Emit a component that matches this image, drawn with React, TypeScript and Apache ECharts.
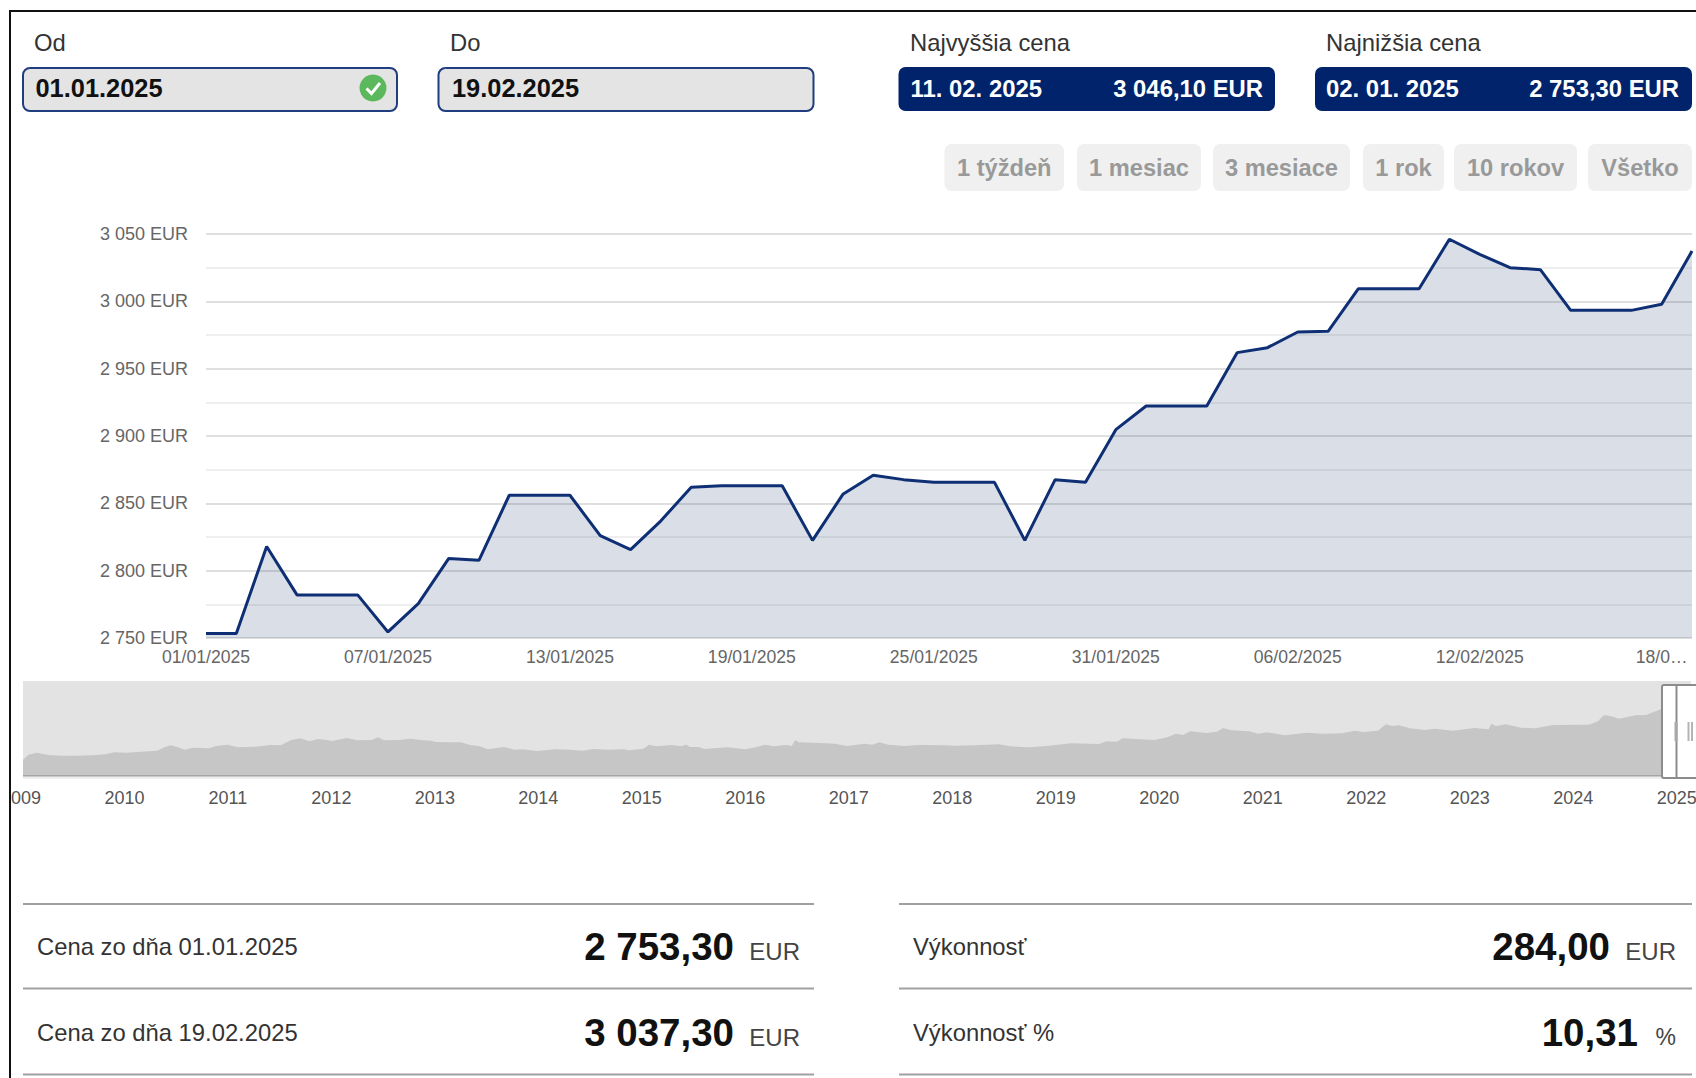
import React, { useEffect, useRef } from "react";
import * as echarts from "echarts";

const days = [
  "01/01/2025","02/01/2025","03/01/2025","04/01/2025","05/01/2025","06/01/2025","07/01/2025","08/01/2025","09/01/2025","10/01/2025",
  "11/01/2025","12/01/2025","13/01/2025","14/01/2025","15/01/2025","16/01/2025","17/01/2025","18/01/2025","19/01/2025","20/01/2025",
  "21/01/2025","22/01/2025","23/01/2025","24/01/2025","25/01/2025","26/01/2025","27/01/2025","28/01/2025","29/01/2025","30/01/2025",
  "31/01/2025","01/02/2025","02/02/2025","03/02/2025","04/02/2025","05/02/2025","06/02/2025","07/02/2025","08/02/2025","09/02/2025",
  "10/02/2025","11/02/2025","12/02/2025","13/02/2025","14/02/2025","15/02/2025","16/02/2025","17/02/2025","18/02/2025","19/02/2025",
];
const prices = [
  2753.3, 2753.3, 2818, 2782, 2782, 2782, 2754.5, 2775.5, 2809, 2807.7,
  2856, 2856, 2856, 2826, 2815.6, 2837, 2862, 2863, 2863, 2863,
  2822.5, 2856.7, 2870.8, 2867.6, 2865.6, 2865.6, 2865.6, 2822.5, 2867.6, 2865.6,
  2904.7, 2922.3, 2922.3, 2922.3, 2961.9, 2965.6, 2977.2, 2977.7, 3009.4, 3009.4,
  3009.4, 3046.1, 3034.9, 3025, 3023.5, 2993.3, 2993.3, 2993.3, 2997.8, 3037.3,
];
const yTickLabels = ["2 750 EUR", "2 800 EUR", "2 850 EUR", "2 900 EUR", "2 950 EUR", "3 000 EUR", "3 050 EUR"];
const navTickLabels = ["2009","2010","2011","2012","2013","2014","2015","2016","2017","2018","2019","2020","2021","2022","2023","2024","2025"];

const navYears = [
  2009.021,2009.074,2009.153,2009.264,2009.402,2009.54,2009.678,2009.816,2009.903,2010.024,2010.162,2010.317,2010.386,2010.449,2010.507,2010.583,2010.663,2010.818,2010.887,2010.998,
  2011.094,2011.267,2011.405,2011.509,2011.613,2011.699,2011.785,2011.872,2011.958,2012.01,2012.148,2012.252,2012.39,2012.449,2012.511,2012.649,2012.77,2012.856,2012.96,2013.012,
  2013.133,2013.253,2013.34,2013.426,2013.513,2013.668,2013.771,2013.858,2013.979,2014.169,2014.307,2014.428,2014.531,2014.687,2014.825,2014.877,2015.015,2015.067,2015.136,2015.291,
  2015.377,2015.429,2015.464,2015.55,2015.602,2015.827,2016,2016.103,2016.189,2016.276,2016.396,2016.448,2016.483,2016.517,2016.776,2016.863,2016.984,2017.156,2017.226,2017.295,
  2017.381,2017.537,2017.675,2017.916,2018.02,2018.21,2018.452,2018.556,2018.746,2018.936,2019.143,2019.419,2019.488,2019.592,2019.644,2019.729,2019.954,2020.075,2020.161,2020.23,
  2020.299,2020.455,2020.558,2020.617,2020.696,2020.869,2020.956,2021.042,2021.215,2021.422,2021.56,2021.767,2021.888,2021.975,2022.113,2022.189,2022.251,2022.313,2022.424,2022.562,
  2022.665,2022.838,2023.045,2023.183,2023.208,2023.252,2023.346,2023.494,2023.632,2023.805,2024.151,2024.237,2024.296,2024.358,2024.444,2024.6,2024.703,2024.859,2025,2025.13,
];
const navValues = [
  668,872,954,859,831,831,845,886,967,954,995,1035,1171,1253,1185,1076,1158,1131,1226,1280,
  1171,1199,1267,1253,1471,1539,1416,1511,1471,1430,1552,1457,1471,1579,1457,1471,1525,1471,1443,1389,
  1375,1375,1267,1226,1090,1185,1076,1090,1022,1090,1076,1035,1103,1076,1090,1049,1117,1280,1212,1267,
  1212,1280,1185,1185,1103,1171,1090,1171,1280,1212,1267,1226,1471,1375,1335,1321,1226,1321,1280,1375,
  1280,1226,1267,1253,1239,1253,1294,1212,1171,1239,1335,1308,1416,1403,1539,1525,1471,1579,1729,1675,
  1824,1756,1811,1960,1865,1824,1729,1783,1661,1770,1729,1743,1851,1797,1851,2110,2042,2069,1947,1879,
  1933,1851,1960,1906,2137,2042,2110,1974,1947,2083,2096,2232,2477,2450,2341,2477,2491,2749,2790,3037,
];

const rangeButtons = ["1 týždeň", "1 mesiac", "3 mesiace", "1 rok", "10 rokov", "Všetko"];
const leftStats = [
  ["Cena zo dňa 01.01.2025", "2 753,30", "EUR"],
  ["Cena zo dňa 19.02.2025", "3 037,30", "EUR"],
];
const rightStats = [
  ["Výkonnosť", "284,00", "EUR"],
  ["Výkonnosť %", "10,31", "%"],
];

const FONT = '"Liberation Sans", Arial, sans-serif';
const NAVY = "#00236b";

function label(text: string, x: number, y: number, size: number, fill: string, bold = false, align = "left", z = 30) {
  return {
    type: "text",
    z,
    style: {
      text, x, y, fill,
      font: `${bold ? "bold " : ""}${size}px ${FONT}`,
      align, textAlign: align,
      verticalAlign: "middle", textVerticalAlign: "middle",
    },
  };
}
function box(x: number, y: number, width: number, height: number, fill: string, r = 0, stroke?: string, lineWidth = 0, z = 30) {
  return {
    type: "rect",
    z,
    shape: { x, y, width, height, r },
    style: { fill, stroke: stroke || "none", lineWidth },
  };
}

function buildGraphics() {
  const g: any[] = [];
  // navigator background, drawn beneath the series
  g.push(box(23, 681, 1668, 95, "#e3e3e3", 0, undefined, 0, 0));
  g.push(box(23, 776, 1668, 3, "#eeeeee", 0, undefined, 0, 0));
  g.push(box(23, 775, 1668, 1.5, "#a6a6a6", 0, undefined, 0, 5));

  // frame, covers what sticks out at the left
  g.push(box(0, 0, 9, 1078, "#ffffff", 0, undefined, 0, 20));
  g.push(box(9, 10, 1687, 2, "#111111"));
  g.push(box(9, 10, 2, 1068, "#111111"));

  // header labels
  g.push(label("Od", 34, 42.5, 23.8, "#333333"));
  g.push(label("Do", 450, 42.5, 23.8, "#333333"));
  g.push(label("Najvyššia cena", 910, 42.5, 23.8, "#333333"));
  g.push(label("Najnižšia cena", 1326, 42.5, 23.8, "#333333"));

  // date fields
  g.push(box(23, 68, 374, 43, "#e4e4e4", 7, "#1f3d7f", 2));
  g.push(box(438.5, 68, 375, 43, "#e4e4e4", 7, "#1f3d7f", 2));
  g.push(label("01.01.2025", 35.5, 88, 25.4, "#111111", true));
  g.push(label("19.02.2025", 452, 88, 25.4, "#111111", true));
  g.push({ type: "circle", z: 30, shape: { cx: 373, cy: 88, r: 13.5 }, style: { fill: "#5cb85c" } });
  g.push({
    type: "polyline", z: 31,
    shape: { points: [[366.5, 88.5], [371.5, 93.5], [380, 83]] },
    style: { stroke: "#ffffff", lineWidth: 3, fill: "none" },
  });

  // highest / lowest price boxes
  g.push(box(898.5, 67, 376.5, 44, NAVY, 7));
  g.push(box(1315, 67, 377, 44, NAVY, 7));
  g.push(label("11. 02. 2025", 910.5, 88, 23.9, "#ffffff", true));
  g.push(label("3 046,10 EUR", 1263, 88, 23.85, "#ffffff", true, "right"));
  g.push(label("02. 01. 2025", 1326, 88, 23.9, "#ffffff", true));
  g.push(label("2 753,30 EUR", 1679, 88, 23.85, "#ffffff", true, "right"));

  // range buttons
  const edges = [[944.5, 1064], [1077, 1201], [1213, 1350], [1363, 1444], [1454, 1577], [1588, 1692]];
  rangeButtons.forEach((t, i) => {
    const [a, b] = edges[i];
    g.push(box(a, 144, b - a, 47, "#f0f0f0", 7));
    g.push(label(t, (a + b) / 2, 168, 23.65, "#999999", true, "center"));
  });

  // navigator selection
  g.push(box(1662, 685, 40, 93, "#ffffff", 2, "#8c8c8c", 2, 10));
  g.push({ type: "line", z: 11, shape: { x1: 1676.5, y1: 685, x2: 1676.5, y2: 778 }, style: { stroke: "#8c8c8c", lineWidth: 2 } });
  g.push(box(1674.5, 722, 3, 19, "#a8a8a8", 0, undefined, 0, 11));
  g.push(box(1687.5, 722, 2, 19, "#b5b5b5", 0, undefined, 0, 11));
  g.push(box(1691, 722, 2, 19, "#b5b5b5", 0, undefined, 0, 11));

  // bottom tables
  [904, 988.5, 1074.5].forEach((y) => {
    g.push(box(23, y - 1, 791, 2, "#a0a0a0"));
    g.push(box(899, y - 1, 793, 2, "#a0a0a0"));
  });
  const rows = [946.5, 1032.5];
  leftStats.forEach(([name, val, unit], i) => {
    g.push(label(name, 37, rows[i], 23.8, "#333333"));
    g.push(label(val, 734, rows[i], 38.5, "#111111", true, "right"));
    g.push(label(unit, 800, rows[i] + 4.5, 24, "#444444", false, "right"));
  });
  rightStats.forEach(([name, val, unit], i) => {
    g.push(label(name, 913, rows[i], 23.8, "#333333"));
    g.push(label(val, unit === "%" ? 1638 : 1610, rows[i], 38.5, "#111111", true, "right"));
    g.push(label(unit, 1676, rows[i] + 4.5, unit === "%" ? 23 : 24, "#444444", false, "right"));
  });
  return g;
}

export default function App() {
  const ref = useRef<HTMLDivElement>(null);
  useEffect(() => {
    document.body.style.margin = "0";
    const chart = echarts.init(ref.current!, undefined, { renderer: "svg" });
    chart.setOption({
      animation: false,
      backgroundColor: "#ffffff",
      textStyle: { fontFamily: FONT },
      graphic: { elements: buildGraphics() },
      grid: [
        { left: 206, top: 234, width: 1486, height: 404, outerBoundsMode: "none" },
        { left: 20.9, top: 681, width: 1675.1, height: 95, outerBoundsMode: "none" },
      ],
      xAxis: [
        {
          type: "category", gridIndex: 0, data: days, boundaryGap: false,
          axisLine: { show: false }, axisTick: { show: false },
          axisLabel: {
            interval: 5, showMinLabel: true,
            color: "#666666", fontSize: 17.6, fontFamily: FONT, margin: 10,
            formatter: (v: string, i: number) => {
              if (i === 49) return "";
              return i === 48 ? v.slice(0, 4) + "…" : v;
            },
          },
        },
        {
          type: "value", gridIndex: 1, min: 2009, max: 2025.186, interval: 1,
          splitLine: { show: false }, axisTick: { show: false },
          axisLine: { show: false },
          axisLabel: {
            showMinLabel: true, showMaxLabel: false,
            color: "#555555", fontSize: 18, fontFamily: FONT, margin: 12.5,
            formatter: (v: number) => navTickLabels[v - 2009] ?? "",
          },
        },
      ],
      yAxis: [
        {
          type: "value", gridIndex: 0, min: 2750, max: 3050, interval: 50,
          axisLine: { show: false }, axisTick: { show: false },
          axisLabel: {
            color: "#666666", fontSize: 18, fontFamily: FONT, margin: 18,
            formatter: (v: number) => yTickLabels[(v - 2750) / 50] ?? "",
          },
          splitLine: { show: true, lineStyle: { color: "#d5d5d5", width: 1.5 } },
          minorTick: { show: false, splitNumber: 2 },
          minorSplitLine: { show: true, lineStyle: { color: "#eaeaea", width: 1.5 } },
        },
        { type: "value", gridIndex: 1, min: 0, max: 3880, show: false, splitLine: { show: false } },
      ],
      series: [
        {
          type: "line", xAxisIndex: 0, yAxisIndex: 0, data: prices, showSymbol: false, symbol: "none",
          lineStyle: { color: "#0f2f75", width: 3 },
          areaStyle: { color: "rgba(0,32,96,0.15)", opacity: 1 },
        },
        {
          type: "line", xAxisIndex: 1, yAxisIndex: 1, showSymbol: false, symbol: "none",
          data: navYears.map((y, i) => [y, navValues[i]]),
          lineStyle: { width: 0 },
          areaStyle: { color: "#c6c6c6", opacity: 1 },
        },
      ],
    });
    return () => chart.dispose();
  }, []);
  return <div ref={ref} style={{ position: "absolute", left: 0, top: 0, width: 1696, height: 1078 }} />;
}
